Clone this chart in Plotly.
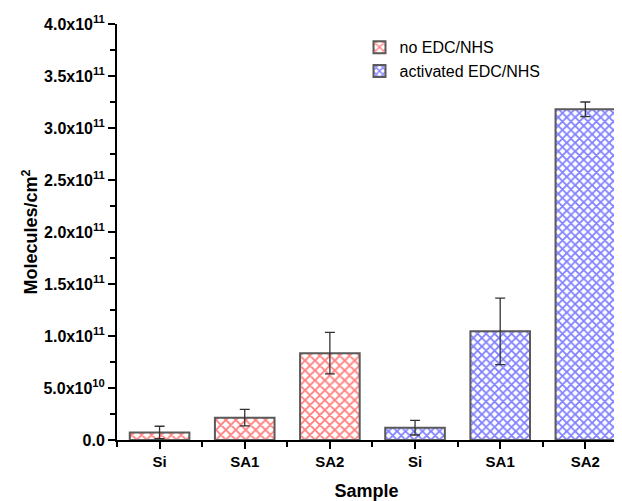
import plotly.graph_objects as go

categories = ["Si", "SA1", "SA2", "Si", "SA1", "SA2"]
no_edc_vals = [7.2e9, 2.15e10, 8.35e10]
no_edc_err = [6.0e9, 8.0e9, 2.0e10]
act_edc_vals = [1.18e10, 1.045e11, 3.18e11]
act_edc_err = [7.0e9, 3.2e10, 7.0e9]
ytick_vals = [0, 0.5e11, 1.0e11, 1.5e11, 2.0e11, 2.5e11, 3.0e11, 3.5e11, 4.0e11]
ytick_text = ["0.0", "5.0x10<sup>10</sup>", "1.0x10<sup>11</sup>", "1.5x10<sup>11</sup>",
              "2.0x10<sup>11</sup>", "2.5x10<sup>11</sup>", "3.0x10<sup>11</sup>",
              "3.5x10<sup>11</sup>", "4.0x10<sup>11</sup>"]

x_pos = list(range(len(categories)))

fig = go.Figure()
fig.add_trace(go.Bar(
    x=x_pos[:3], y=no_edc_vals, width=0.7, name="no EDC/NHS",
    marker=dict(color="white", line=dict(color="#5a5a5a", width=2),
                pattern=dict(shape="x", fgcolor="#ff0000", bgcolor="white", size=7, solidity=0.45)),
    error_y=dict(type="data", array=no_edc_err, color="#333333", thickness=1.3, width=5),
))
fig.add_trace(go.Bar(
    x=x_pos[3:], y=act_edc_vals, width=0.7, name="activated EDC/NHS",
    marker=dict(color="white", line=dict(color="#5a5a5a", width=2),
                pattern=dict(shape="x", fgcolor="#0000ff", bgcolor="white", size=6, solidity=0.5)),
    error_y=dict(type="data", array=act_edc_err, color="#333333", thickness=1.3, width=5),
))

font_fam = "Liberation Sans, Arial, sans-serif"
fig.update_layout(
    width=614, height=493,
    margin=dict(l=109, r=6, t=16, b=61),
    paper_bgcolor="white", plot_bgcolor="white",
    font=dict(family=font_fam, color="black"),
    barmode="overlay",
    showlegend=True,
    legend=dict(x=0.486, y=0.985, xanchor="left", yanchor="top",
                font=dict(size=16, family=font_fam), bgcolor="rgba(0,0,0,0)",
                itemsizing="constant", tracegroupgap=0),
    xaxis=dict(
        range=[-0.5, 5.36], tickmode="array", tickvals=x_pos, ticktext=categories,
        showline=True, linecolor="black", linewidth=2, mirror=False, automargin=False,
        ticks="outside", ticklen=7, tickwidth=2, tickcolor="black",
        tickfont=dict(size=15, family=font_fam, weight="bold"),
        minor=dict(tick0=0.5, dtick=1, ticks="outside", ticklen=5, tickwidth=1.5, tickcolor="black"),
        showgrid=False, zeroline=False,
        title=dict(text="<b>Sample</b>", font=dict(size=18, family=font_fam), standoff=15),
    ),
    yaxis=dict(
        range=[0, 4.0e11], tickmode="array", tickvals=ytick_vals, ticktext=ytick_text,
        showline=True, linecolor="black", linewidth=2, mirror=False, automargin=False,
        ticks="outside", ticklen=7, tickwidth=2, tickcolor="black",
        tickfont=dict(size=16, family=font_fam, weight="bold"),
        minor=dict(tick0=0.25e11, dtick=0.5e11, ticks="outside", ticklen=5, tickwidth=1.5, tickcolor="black"),
        showgrid=False, zeroline=False,
        title=dict(text="<b>Molecules/cm<sup>2</sup></b>", font=dict(size=18, family=font_fam), standoff=1),
    ),
)

fig.write_html("out.html")
